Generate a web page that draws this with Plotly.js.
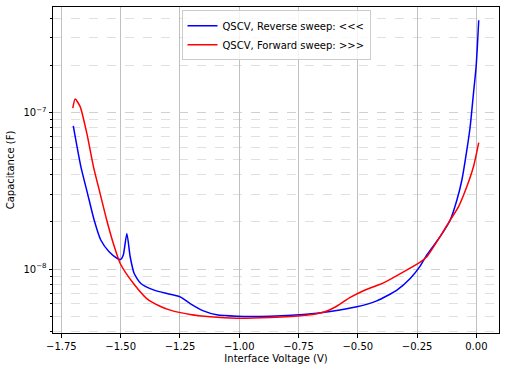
<!DOCTYPE html>
<html>
<head>
<meta charset="utf-8">
<script src="https://cdn.plot.ly/plotly-3.0.1.min.js"></script>
<style>html,body{margin:0;padding:0;background:#fff}#chart{width:506px;height:371px}</style>
</head>
<body>
<div id="chart"></div>
<script>
// Reverse sweep (blue)
const revV = [-1.700, -1.668, -1.640, -1.612, -1.584, -1.549, -1.514, -1.500, -1.489, -1.474, -1.460, -1.443, -1.415, -1.359, -1.291, -1.249, -1.207, -1.151, -1.095, -1.010, -0.870, -0.729, -0.617, -0.504, -0.420, -0.335, -0.279, -0.237, -0.209, -0.153, -0.110, -0.082, -0.061, -0.040, -0.026, -0.012, -0.001, 0.005, 0.010];
const revLogC = [-7.085, -7.345, -7.516, -7.686, -7.814, -7.889, -7.932, -7.938, -7.910, -7.772, -7.921, -8.028, -8.092, -8.134, -8.160, -8.177, -8.220, -8.267, -8.292, -8.301, -8.301, -8.290, -8.271, -8.241, -8.203, -8.134, -8.060, -7.981, -7.910, -7.793, -7.686, -7.559, -7.431, -7.239, -7.089, -6.876, -6.706, -6.556, -6.411];
// Forward sweep (red)
const fwdV = [-1.702, -1.692, -1.671, -1.643, -1.615, -1.587, -1.559, -1.531, -1.502, -1.446, -1.390, -1.334, -1.291, -1.207, -1.122, -1.010, -0.870, -0.729, -0.645, -0.589, -0.532, -0.476, -0.392, -0.307, -0.237, -0.209, -0.153, -0.110, -0.075, -0.040, -0.012, 0.010];
const fwdLogC = [-6.972, -6.914, -6.962, -7.132, -7.345, -7.516, -7.686, -7.836, -7.964, -8.092, -8.188, -8.237, -8.262, -8.290, -8.305, -8.314, -8.309, -8.296, -8.275, -8.237, -8.181, -8.138, -8.088, -8.017, -7.955, -7.921, -7.793, -7.686, -7.601, -7.473, -7.345, -7.192];

const revC = revLogC.map(v => Math.pow(10, v));
const fwdC = fwdLogC.map(v => Math.pow(10, v));

const xTicks = [-1.75, -1.50, -1.25, -1.00, -0.75, -0.50, -0.25, 0.00];
const yTicks = [1e-8, 1e-7];
const yTickText = ['10<sup>−8</sup>', '10<sup>−7</sup>'];

const font = {family: 'DejaVu Sans, sans-serif', size: 10, color: '#000'};

const traces = [
  {x: revV, y: revC, mode: 'lines', name: 'QSCV, Reverse sweep: <<<',
   line: {color: '#0000ff', width: 1.5, shape: 'spline', smoothing: 0.6}},
  {x: fwdV, y: fwdC, mode: 'lines', name: 'QSCV, Forward sweep: >>>',
   line: {color: '#ff0000', width: 1.5, shape: 'spline', smoothing: 0.6}}
];

const layout = {
  width: 506, height: 371,
  margin: {l: 53, r: 7, t: 7, b: 38},
  paper_bgcolor: '#fff', plot_bgcolor: '#fff',
  font: font,
  showlegend: true,
  legend: {x: 0.5, xanchor: 'center', y: 0.99, yanchor: 'top',
           bgcolor: 'rgba(255,255,255,0.8)', bordercolor: '#cccccc', borderwidth: 1,
           font: font, tracegroupgap: 0},
  xaxis: {
    range: [-1.7855, 0.0955],
    tickvals: xTicks, tickformat: '.2f',
    ticks: 'outside', ticklen: 3.5, tickcolor: '#000',
    showgrid: true, gridcolor: '#b0b0b0', gridwidth: 0.8,
    showline: true, linecolor: '#000', linewidth: 1, mirror: true,
    zeroline: false,
    title: {text: 'Interface Voltage (V)', font: font, standoff: 4}
  },
  yaxis: {
    type: 'log',
    range: [-8.408, -6.326],
    tickvals: yTicks, ticktext: yTickText,
    ticks: 'outside', ticklen: 3.5, tickcolor: '#000',
    showgrid: true, gridcolor: '#cccccc', gridwidth: 0.8, griddash: 'dash',
    showline: true, linecolor: '#000', linewidth: 1, mirror: true,
    zeroline: false,
    minor: {dtick: 'D1', showgrid: true, gridcolor: '#cccccc', gridwidth: 0.6, griddash: 'dash',
            ticks: 'outside', ticklen: 2, tickcolor: '#000'},
    title: {text: 'Capacitance (F)', font: font, standoff: 6}
  }
};

Plotly.newPlot('chart', traces, layout, {displayModeBar: false, staticPlot: true});
</script>
</body>
</html>
